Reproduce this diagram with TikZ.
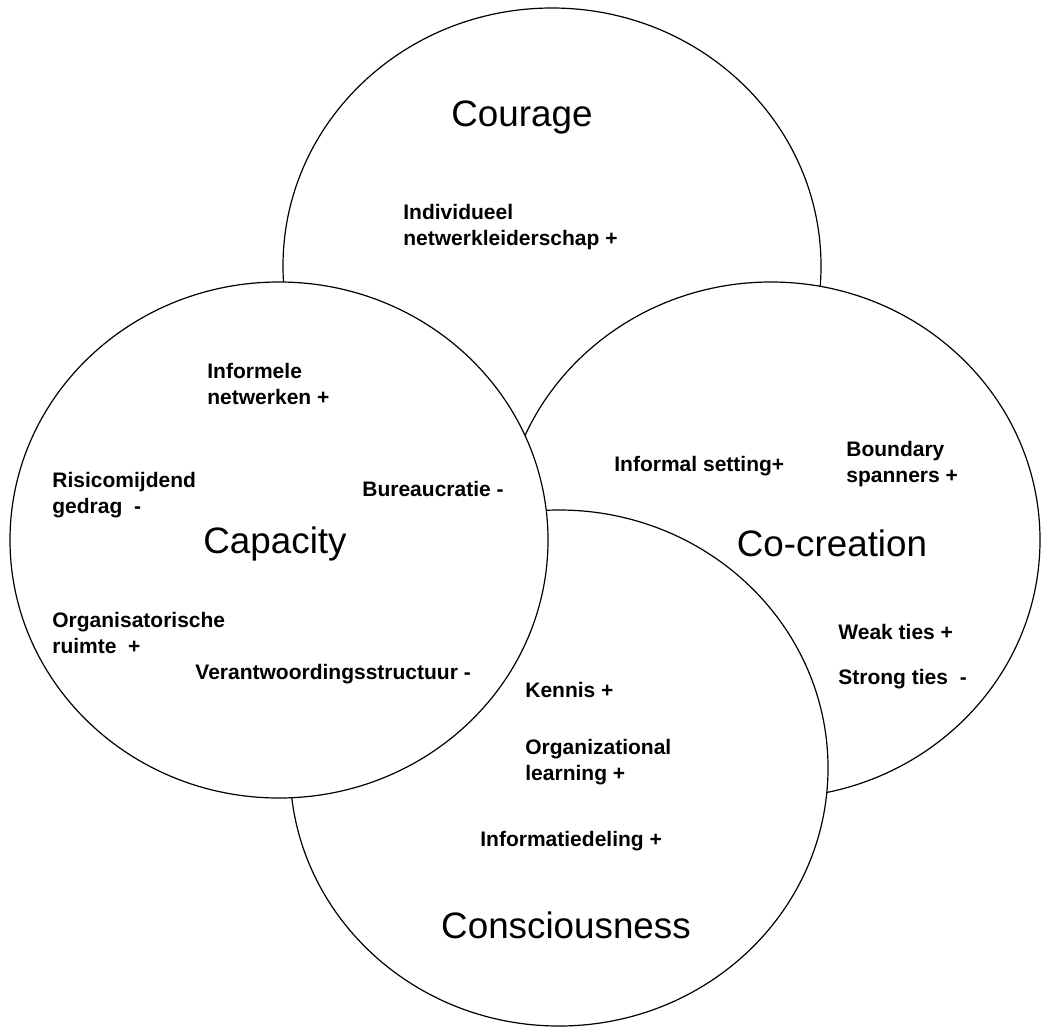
\documentclass[tikz,border=0pt]{standalone}
\usepackage{fontspec}
\setmainfont{Liberation Sans}
\usepackage{tikz}

\begin{document}
\begin{tikzpicture}[x=0.5pt, y=-0.5pt]
  \tikzstyle{set} = [draw, fill=white, line width=0.6pt]
  \tikzstyle{title} = [font=\fontsize{18.4}{22}\selectfont]
  \tikzstyle{factor} = [anchor=west, align=left, inner sep=0pt,
    font=\fontsize{10.5}{13}\selectfont\bfseries]

  \useasboundingbox (0,0) rectangle (1042,1028);

  % the four sets, lowest first
  \draw[set] (552,266) ellipse [x radius=134.5pt, y radius=129pt];
  \draw[set] (771,540) ellipse [x radius=134.5pt, y radius=129pt];
  \draw[set] (559,768) ellipse [x radius=134.5pt, y radius=129pt];
  \draw[set] (279,540) ellipse [x radius=134.5pt, y radius=129pt];

  \node[title] (courage) at (522,117) {Courage};
  \node[title] (capacity) at (275,544) {Capacity};
  \node[title] (cocreation) at (832,543) {Co-creation};
  \node[title] (consc) at (566,925) {Consciousness};

  \node[factor] (leider) at (403,227) {Individueel\\netwerkleiderschap +};

  \node[factor] (netw) at (207,384) {Informele\\netwerken +};
  \node[factor] (risico) at (52,495) {Risicomijdend\\gedrag~~-};
  \node[factor] (bureau) at (362,489) {Bureaucratie -};
  \node[factor] (ruimte) at (52,633) {Organisatorische\\ruimte~~+};
  \node[factor] (verantw) at (195,674) {Verantwoordingsstructuur -};

  \node[factor] (setting) at (614,466) {Informal setting+};
  \node[factor] (boundary) at (846,464) {Boundary\\spanners +};
  \node[factor] (weak) at (838,632) {Weak ties +};
  \node[factor] (strong) at (838,679) {Strong ties~~-};

  \node[factor] (kennis) at (525,690) {Kennis +};
  \node[factor] (orglearn) at (525,762) {Organizational\\learning +};
  \node[factor] (infodel) at (480,841) {Informatiedeling +};
\end{tikzpicture}
\end{document}
